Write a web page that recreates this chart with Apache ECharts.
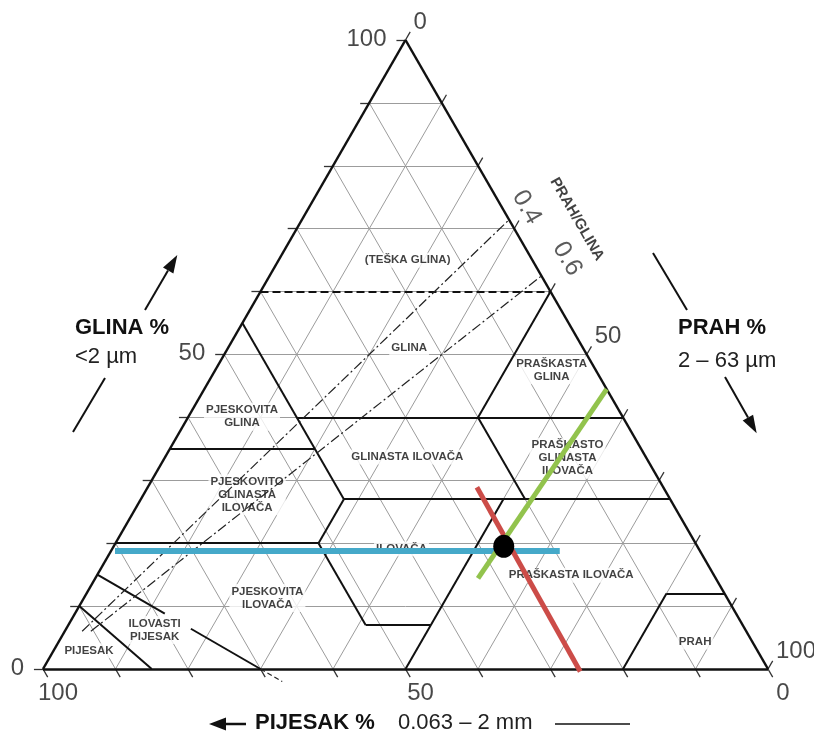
<!DOCTYPE html>
<html><head><meta charset="utf-8">
<script src="https://cdn.jsdelivr.net/npm/echarts@6/dist/echarts.min.js"></script>
<style>html,body{margin:0;padding:0;background:#fff}#c{width:814px;height:736px}</style>
</head><body><div id="c"></div>
<script>
// All positions below are ternary values: [clay %, silt %]; sand % = 100 - clay - silt
const gridSteps = [10, 20, 30, 40, 50, 60, 70, 80, 90];
const tickSteps = [0, 10, 20, 30, 40, 50, 60, 70, 80, 90, 100];
const clayTickLabels = [0, 50, 100];   // GLINA % (left side)
const siltTickLabels = [0, 50, 100];   // PRAH % (right side)
const sandTickLabels = [100, 50, 0];   // PIJESAK % (bottom)

const triangleEdges = [[[0, 0], [100, 0]], [[100, 0], [0, 100]], [[0, 100], [0, 0]]];
const classBoundaries = [
  [[55, 0], [27, 28]], [[35, 0], [35, 20]], [[40, 15], [40, 60]], [[60, 40], [40, 40]],
  [[40, 40], [27, 53]], [[27, 28], [27, 73]], [[27, 28], [20, 28]], [[20, 0], [20, 28]],
  [[20, 28], [7, 41]], [[7, 41], [7, 50]], [[0, 50], [27, 50]], [[0, 80], [12, 80]],
  [[12, 80], [12, 88]], [[10, 0], [0, 15]], [[15, 0], [8.8, 12.4]], [[6.4, 17.2], [0, 30]]
];
const heavyClayBoundary = [[60, 0], [60, 40]];
const loamySandExtension = [[0, 30], [-2, 34]];
const siltClayRatios = [0.4, 0.6];
const ratioStartClay = 6;

const regionNames = ['(TEŠKA GLINA)', 'GLINA', 'PRAŠKASTA\nGLINA', 'PJESKOVITA\nGLINA', 'GLINASTA ILOVAČA',
  'PRAŠKASTO\nGLINASTA\nILOVAČA', 'PJESKOVITO\nGLINASTA\nILOVAČA', 'ILOVAČA', 'PRAŠKASTA ILOVAČA',
  'PJESKOVITA\nILOVAČA', 'ILOVASTI\nPIJESAK', 'PIJESAK', 'PRAH'];
const regionAnchors = [[65.0, 17.8], [51.0, 25.0], [47.5, 46.4], [40.1, 7.4], [33.7, 33.4],
  [33.5, 55.6], [27.7, 14.3], [19.1, 39.9], [14.9, 65.4], [11.3, 25.3], [6.2, 12.3], [2.9, 4.9], [4.3, 87.8]];

const ratioTexts = ['PRAH/GLINA', '0.4', '0.6'];
const ratioTextAnchors = [[71.5, 37.9], [73.4, 30.0], [65.2, 39.7]];

const samplePoint = [19.5, 53.8];
const clayReadLine = [[18.76, 0.55], [18.76, 61.9]];
const sandReadLine = [[28.9, 45.4], [-0.4, 74.3]];
const siltReadLine = [[14.4, 52.8], [44.5, 55.5]];

// ---------- helpers ----------
const FONT = '"Liberation Sans", Arial, sans-serif';
const toXY = p => [p[1] + p[0] / 2, p[0]];
const seg = (a, b, style) => ({ coords: [toXY(a), toXY(b)], lineStyle: Object.assign({ opacity: 1 }, style) });

const gridData = [];
gridSteps.forEach(v => {
  gridData.push(seg([v, 0], [v, 100 - v], { color: '#9c9c9c', width: 1 }));
  gridData.push(seg([0, v], [100 - v, v], { color: '#9c9c9c', width: 1 }));
  gridData.push(seg([0, 100 - v], [100 - v, 0], { color: '#9c9c9c', width: 1 }));
});
const tickStyle = { color: '#333', width: 1.3 };
tickSteps.forEach(v => {
  gridData.push(seg([v, 0], [v, -1.25], tickStyle));
  gridData.push(seg([0, 100 - v], [-1.3, 100 - v + 1.3], tickStyle));
  gridData.push(seg([100 - v, v], [100 - v + 1.3, v], tickStyle));
});

const blackData = [];
triangleEdges.forEach(e => blackData.push(seg(e[0], e[1], { color: '#111', width: 2.5 })));
classBoundaries.forEach(e => blackData.push(seg(e[0], e[1], { color: '#111', width: 2 })));
blackData.push(seg(heavyClayBoundary[0], heavyClayBoundary[1], { color: '#111', width: 2, type: [8, 4] }));
blackData.push(seg(loamySandExtension[0], loamySandExtension[1], { color: '#222', width: 1.2, type: [5, 3] }));
siltClayRatios.forEach(r => {
  const cEnd = 100 / (1 + r);
  blackData.push(seg([ratioStartClay, ratioStartClay * r], [cEnd, cEnd * r],
    { color: '#222', width: 1.2, type: [10, 3, 2, 3] }));
});

const readData = [
  seg(clayReadLine[0], clayReadLine[1], { color: '#45a9c9', width: 6 }),
  seg(sandReadLine[0], sandReadLine[1], { color: '#cc4c48', width: 5 }),
  seg(siltReadLine[0], siltReadLine[1], { color: '#92c34d', width: 5 })
];

const tickLabelStyle = { show: true, fontFamily: FONT, fontSize: 24, color: '#1a1a1a', position: 'inside' };
const hidden = { color: 'rgba(0,0,0,0)' };

const option = {
  animation: false,
  backgroundColor: '#fff',
  grid: { left: 43, top: 40, width: 725, height: 629 },
  xAxis: { type: 'value', min: 0, max: 100, show: false },
  yAxis: { type: 'value', min: 0, max: 100, show: false },
  series: [
    { type: 'lines', coordinateSystem: 'cartesian2d', clip: false, silent: true, z: 1, data: gridData },
    {
      type: 'scatter', z: 2, symbolSize: 1, itemStyle: hidden, silent: true, clip: false,
      data: regionNames.map((n, i) => ({ value: toXY(regionAnchors[i]), name: n })),
      label: {
        show: true, position: 'inside', formatter: p => p.name, fontFamily: FONT, fontWeight: 'bold',
        fontSize: 11.5, lineHeight: 13, color: '#111', align: 'center',
        backgroundColor: '#fff', padding: [1, 2]
      }
    },
    {
      type: 'scatter', z: 2, symbolSize: 1, itemStyle: hidden, silent: true, clip: false,
      data: ratioTexts.map((n, i) => ({
        value: toXY(ratioTextAnchors[i]), name: n,
        label: i === 0 ? { fontWeight: 'bold', fontSize: 15, color: '#111' } : { fontSize: 25, color: '#333' }
      })),
      label: { show: true, position: 'inside', formatter: p => p.name, fontFamily: FONT, rotate: -60 }
    },
    { type: 'lines', coordinateSystem: 'cartesian2d', clip: false, silent: true, z: 3, data: blackData },
    {
      type: 'scatter', z: 2, symbolSize: 1, itemStyle: hidden, silent: true, clip: false,
      data: clayTickLabels.map(v => ({ value: toXY([v, 0]), name: String(v) })),
      label: Object.assign({}, tickLabelStyle, { formatter: p => p.name, align: 'right', offset: [-19, -1] })
    },
    {
      type: 'scatter', z: 2, symbolSize: 1, itemStyle: hidden, silent: true, clip: false,
      data: siltTickLabels.map(v => ({ value: toXY([100 - v, v]), name: String(v) })),
      label: Object.assign({}, tickLabelStyle, { formatter: p => p.name, align: 'left', offset: [8, -18] })
    },
    {
      type: 'scatter', z: 2, symbolSize: 1, itemStyle: hidden, silent: true, clip: false,
      data: sandTickLabels.map(v => ({ value: toXY([0, 100 - v]), name: String(v) })),
      label: Object.assign({}, tickLabelStyle, { formatter: p => p.name, align: 'center', offset: [15, 24] })
    },
    { type: 'lines', coordinateSystem: 'cartesian2d', clip: false, silent: true, z: 4, data: readData },
    {
      type: 'scatter', z: 5, silent: true, symbol: 'circle', symbolSize: [21, 23],
      itemStyle: { color: '#000', opacity: 1 }, data: [toXY(samplePoint)]
    }
  ],
  graphic: [
    // GLINA (left)
    { type: 'text', style: { text: 'GLINA %', x: 75, y: 328, font: 'bold 22px ' + FONT, fill: '#111', textVerticalAlign: 'middle' } },
    { type: 'text', style: { text: '<2 µm', x: 75, y: 357, font: '22px ' + FONT, fill: '#222', textVerticalAlign: 'middle' } },
    { type: 'line', shape: { x1: 73, y1: 432, x2: 105, y2: 378 }, style: { stroke: '#111', lineWidth: 2 } },
    { type: 'line', shape: { x1: 145, y1: 310, x2: 168, y2: 270.5 }, style: { stroke: '#111', lineWidth: 2 } },
    { type: 'polygon', shape: { points: [[177.3, 255], [173.4, 273.5], [163, 267.5]] }, style: { fill: '#111' } },
    // PRAH (right)
    { type: 'text', style: { text: 'PRAH %', x: 678, y: 328, font: 'bold 22px ' + FONT, fill: '#111', textVerticalAlign: 'middle' } },
    { type: 'text', style: { text: '2 – 63 µm', x: 678, y: 361, font: '22px ' + FONT, fill: '#222', textVerticalAlign: 'middle' } },
    { type: 'line', shape: { x1: 653, y1: 253, x2: 687, y2: 310 }, style: { stroke: '#111', lineWidth: 2 } },
    { type: 'line', shape: { x1: 725, y1: 377, x2: 748, y2: 417.6 }, style: { stroke: '#111', lineWidth: 2 } },
    { type: 'polygon', shape: { points: [[756.7, 433.3], [753.1, 414.7], [742.7, 420.5]] }, style: { fill: '#111' } },
    // PIJESAK (bottom)
    { type: 'polygon', shape: { points: [[209, 724], [226, 717.5], [226, 730.5]] }, style: { fill: '#111' } },
    { type: 'line', shape: { x1: 224, y1: 724, x2: 246, y2: 724 }, style: { stroke: '#111', lineWidth: 2.5 } },
    { type: 'text', style: { text: 'PIJESAK %', x: 255, y: 723, font: 'bold 22px ' + FONT, fill: '#111', textVerticalAlign: 'middle' } },
    { type: 'text', style: { text: '0.063 – 2 mm', x: 398, y: 723, font: '22px ' + FONT, fill: '#222', textVerticalAlign: 'middle' } },
    { type: 'line', shape: { x1: 555, y1: 724, x2: 630, y2: 724 }, style: { stroke: '#111', lineWidth: 1.5 } }
  ]
};
echarts.init(document.getElementById('c')).setOption(option);
</script></body></html>
